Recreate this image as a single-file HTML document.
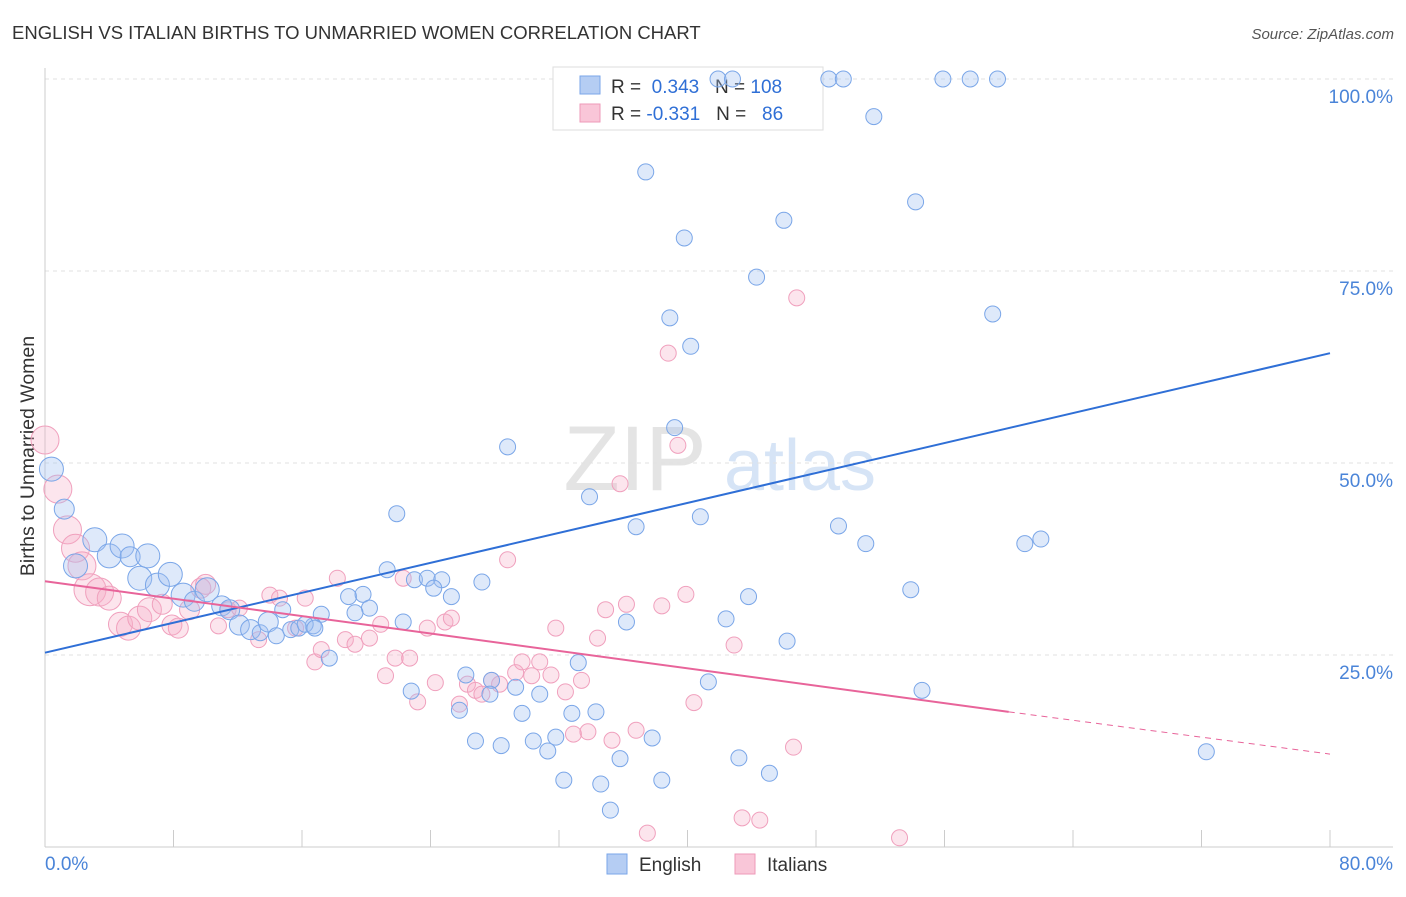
<!DOCTYPE html>
<html><head><meta charset="utf-8"><style>
body{margin:0;background:#fff;font-family:"Liberation Sans",sans-serif}
svg text{font-family:"Liberation Sans",sans-serif}
</style></head><body>
<svg id="chart" width="1406" height="892" viewBox="0 0 1406 892" xmlns="http://www.w3.org/2000/svg">
<text x="12" y="39" font-size="18.5" fill="#333">ENGLISH VS ITALIAN BIRTHS TO UNMARRIED WOMEN CORRELATION CHART</text>
<text x="1394" y="39" font-size="15" fill="#555" font-style="italic" text-anchor="end">Source: ZipAtlas.com</text>
<text x="0" y="0" font-size="19.5" fill="#333" transform="translate(34,456) rotate(-90)" text-anchor="middle">Births to Unmarried Women</text>
<g><text x="635" y="490" font-size="92" fill="#e4e4e4" font-family="Liberation Serif,serif" text-anchor="middle">ZIP</text><text x="800" y="490" font-size="72" fill="#d6e4f6" text-anchor="middle">atlas</text></g>
<g id="grid"></g><g id="axes"></g>
<g>
<rect x="553" y="67" width="270" height="63" fill="#fff" stroke="#ddd"/>
<rect x="580" y="76" width="20" height="18" fill="#b5cdf3" stroke="#7aa6e8"/>
<rect x="580" y="104" width="20" height="18" fill="#f9c6d8" stroke="#ee9ab8"/>
<text x="611" y="93" font-size="19" fill="#333">R = <tspan fill="#2f6fd6">&#160;0.343</tspan>&#160;&#160;&#160;N = <tspan fill="#2f6fd6">108</tspan></text>
<text x="611" y="120" font-size="19" fill="#333">R = <tspan fill="#2f6fd6">-0.331</tspan>&#160;&#160;&#160;N = <tspan fill="#2f6fd6">&#160;&#160;86</tspan></text>
</g>
<g id="pts"></g><g id="lines"></g>
<g>
<rect x="607" y="854" width="20" height="20" fill="#b5cdf3" stroke="#7aa6e8"/>
<text x="639" y="871" font-size="19" fill="#333">English</text>
<rect x="735" y="854" width="20" height="20" fill="#f9c6d8" stroke="#ee9ab8"/>
<text x="767" y="871" font-size="19" fill="#333">Italians</text>
</g>
</svg>
<script>
const yTicks=[25,50,75,100];
const yTickLabels=["25.0%","50.0%","75.0%","100.0%"];
const xTicks=[0,8,16,24,32,40,48,56,64,72,80];
const xEndLabels=["0.0%","80.0%"];
const engX=[41.9,42.8,48.8,49.7,55.9,57.6,59.3,51.6,37.4,54.2,46.0,39.8,44.3,59.0,38.9,40.2,39.2,28.8,33.9,40.8,36.8,49.4,51.1,61.0,62.0,21.9,21.3,23.0,23.8,24.7,24.2,27.2,25.3,53.9,43.8,36.2,42.4,22.3,46.2,18.9,19.8,20.2,19.3,17.2,16.7,17.7,33.2,26.2,27.8,29.3,30.8,41.3,54.6,22.8,25.8,27.7,29.7,32.8,34.3,26.8,28.4,30.4,31.3,31.8,35.8,37.8,43.2,45.1,32.3,34.6,38.4,35.2,72.3,0.4,1.2,1.9,3.1,4.0,4.8,5.3,6.4,5.9,7.0,7.8,8.6,9.3,10.1,11.0,11.5,12.1,12.8,13.4,13.9,14.4,14.8,15.3,15.8,16.2,16.8];
const engY=[100,100,100,100,100,100,100,95.1,87.9,84.0,81.6,79.3,74.2,69.4,68.9,65.2,54.6,52.1,45.6,43.0,41.7,41.8,39.5,39.5,40.1,43.4,36.1,34.8,35.0,34.8,33.7,34.5,32.6,33.5,32.6,29.3,29.7,29.3,26.8,32.6,32.9,31.1,30.5,30.3,28.8,24.6,24.0,22.4,21.7,20.8,19.9,21.5,20.4,20.3,17.8,19.9,17.4,17.4,17.6,13.8,13.2,13.8,12.5,14.3,11.5,14.2,11.6,9.6,8.7,8.2,8.7,4.8,12.4,49.2,44.0,36.6,40.0,37.9,39.2,37.8,37.9,35.0,34.1,35.5,32.8,32.0,33.5,31.4,30.9,28.9,28.3,27.9,29.3,27.5,30.9,28.3,28.5,29.0,28.5];
const engSize=[8,8,8,8,8,8,8,8,8,8,8,8,8,8,8,8,8,8,8,8,8,8,8,8,8,8,8,8,8,8,8,8,8,8,8,8,8,8,8,8,8,8,8,8,8,8,8,8,8,8,8,8,8,8,8,8,8,8,8,8,8,8,8,8,8,8,8,8,8,8,8,8,8,12,10,12,12,12,12,10,12,12,12,12,12,10,12,10,10,10,10,8,10,8,8,8,8,8,8];
const itaX=[0,0.8,1.4,1.9,2.3,2.8,3.4,4.0,4.7,5.2,5.9,6.5,7.3,7.9,8.3,9.0,9.7,10.0,10.8,11.4,12.1,13.3,14.0,14.6,15.6,16.2,16.8,17.2,18.2,18.7,19.3,20.2,20.9,21.2,21.8,22.3,22.7,23.2,23.8,24.3,24.9,25.3,25.8,26.3,26.8,27.2,27.8,28.3,28.8,29.3,29.7,30.3,30.8,31.5,31.8,32.4,32.9,33.4,33.8,34.4,34.9,35.3,35.8,36.2,36.8,37.5,38.4,38.8,39.4,39.9,40.4,42.9,43.4,44.5,46.6,46.8,53.2];
const itaY=[53.0,46.6,41.3,38.9,36.6,33.5,33.2,32.4,29.0,28.5,29.8,30.9,31.6,28.9,28.5,30.9,33.7,34.2,28.8,30.9,31.1,27.0,32.8,32.4,28.5,32.4,24.1,25.7,35.0,27.0,26.4,27.2,29.0,22.3,24.6,35.0,24.6,18.9,28.5,21.4,29.3,29.8,18.6,21.2,20.4,19.9,21.7,21.2,37.4,22.7,24.1,22.3,24.1,22.4,28.5,20.2,14.7,21.7,15.0,27.2,30.9,13.9,47.3,31.6,15.2,1.8,31.4,64.3,52.3,32.9,18.8,26.3,3.8,3.5,13.0,71.5,1.2];
const itaSize=[14,14,14,14,14,16,14,12,12,12,12,12,10,10,10,10,10,10,8,8,8,8,8,8,8,8,8,8,8,8,8,8,8,8,8,8,8,8,8,8,8,8,8,8,8,8,8,8,8,8,8,8,8,8,8,8,8,8,8,8,8,8,8,8,8,8,8,8,8,8,8,8,8,8,8,8,8];
const engLine=[[0,25.3],[80,64.3]];
const itaLine=[[0,34.6],[60,17.6],[80,12.1]];
const NS="http://www.w3.org/2000/svg";
const X=v=>45+v*(1285/80), Y=v=>847-v*7.68;
function mk(t,a,p){const e=document.createElementNS(NS,t);for(const k in a)e.setAttribute(k,a[k]);document.getElementById(p).appendChild(e);return e;}
yTicks.forEach((t,i)=>{
 const g=mk('line',{x1:45,x2:1393,y1:Y(t),y2:Y(t),stroke:'#e2e2e2','stroke-dasharray':'4,4'},'grid');
 
 
 const l=mk('text',{x:1393,y:Y(t)+24,'font-size':19,fill:'#4a84d8','text-anchor':'end'},'grid');l.textContent=yTickLabels[i];
 
 
});
const ax=mk('line',{x1:45,x2:45,y1:68,y2:847,stroke:'#ccc'},'axes');


const bx=mk('line',{x1:45,x2:1393,y1:847,y2:847,stroke:'#ccc'},'axes');


xTicks.forEach(t=>{const k=mk('line',{x1:X(t),x2:X(t),y1:830,y2:847,stroke:'#ccc'},'axes');
 
 });
[[0,'start'],[80,'end']].forEach((d,i)=>{const l=mk('text',{x:X(d[0])+(i?63:0),y:870,'font-size':19,fill:'#4a84d8','text-anchor':d[1]},'axes');l.textContent=xEndLabels[i];
 
 });
itaX.forEach((v,i)=>{const c=mk('circle',{cx:X(v),cy:Y(itaY[i]),r:itaSize[i],fill:'rgba(247,175,200,0.32)',stroke:'#f0a0bd','stroke-width':1},'pts');
 
 });
engX.forEach((v,i)=>{const c=mk('circle',{cx:X(v),cy:Y(engY[i]),r:engSize[i],fill:'rgba(160,192,240,0.35)',stroke:'#7aa6e8','stroke-width':1},'pts');
 
 });
const bl=mk('line',{x1:X(engLine[0][0]),y1:Y(engLine[0][1]),x2:X(engLine[1][0]),y2:Y(engLine[1][1]),stroke:'#2f6fd6','stroke-width':2},'lines');


const pl=mk('line',{x1:X(itaLine[0][0]),y1:Y(itaLine[0][1]),x2:X(itaLine[1][0]),y2:Y(itaLine[1][1]),stroke:'#e8649a','stroke-width':2},'lines');


const pd=mk('line',{x1:X(itaLine[1][0]),y1:Y(itaLine[1][1]),x2:X(itaLine[2][0]),y2:Y(itaLine[2][1]),stroke:'#e8649a','stroke-width':1,'stroke-dasharray':'6,5'},'lines');


</script>
</body></html>
